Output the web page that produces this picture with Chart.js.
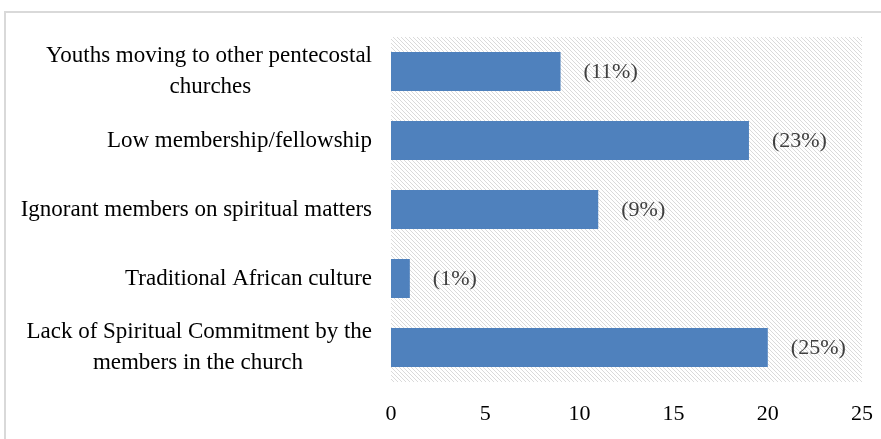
<!DOCTYPE html>
<html>
<head>
<meta charset="utf-8">
<script src="https://cdn.jsdelivr.net/npm/chart.js@4"></script>
<style>
  html, body { margin: 0; padding: 0; background: #fff; overflow: hidden; }
  #wrap { position: relative; width: 881px; height: 439px; }
  #frame { position: absolute; left: 4px; top: 11px; width: 900px; height: 460px;
           border: 2px solid #d9d9d9; box-sizing: border-box; }
  #chart_canvas { position: absolute; left: 0; top: 0; }
</style>
</head>
<body>
<div id="wrap">
  <div id="frame"></div>
  <canvas id="chart_canvas" width="881" height="439"></canvas>
</div>
<script>
// the data, top to bottom
const categories = [
  ["Youths moving to other pentecostal", "churches"],
  "Low membership/fellowship",
  "Ignorant members on spiritual matters",
  "Traditional African culture",
  ["Lack of Spiritual Commitment by the", "members in the church"]
];
const values = [9, 19, 11, 1, 20];
const pct_labels = ["(11%)", "(23%)", "(9%)", "(1%)", "(25%)"];
const x_ticks = [0, 5, 10, 15, 20, 25];

const serif = "'Liberation Serif', 'Times New Roman', serif";
const label_font = "23px " + serif;

// two-line labels are centred as a block in the original, so pad the short line
const mctx = document.createElement("canvas").getContext("2d");
function center_lines(lbl) {
  if (!Array.isArray(lbl)) return lbl;
  mctx.font = label_font;
  const sw = mctx.measureText(" ").width;
  const widths = lbl.map(s => mctx.measureText(s).width);
  const maxw = Math.max(...widths);
  return lbl.map((s, i) => s + " ".repeat(Math.round((maxw - widths[i]) / 2 / sw)));
}

// hatched backdrop for the plot area
function hatch() {
  const c = document.createElement("canvas");
  c.width = 4; c.height = 4;
  const g = c.getContext("2d");
  g.fillStyle = "#ffffff";
  g.fillRect(0, 0, 4, 4);
  g.strokeStyle = "#dadada";
  g.lineWidth = 1;
  g.beginPath();
  g.moveTo(0, 0); g.lineTo(4, 4);
  g.moveTo(-1, 3); g.lineTo(1, 5);
  g.moveTo(3, -1); g.lineTo(5, 1);
  g.stroke();
  return g.createPattern(c, "repeat");
}

const bg_plugin = {
  id: "bg",
  beforeDraw(chart) {
    const a = chart.chartArea;
    const ctx = chart.ctx;
    ctx.save();
    ctx.fillStyle = hatch();
    ctx.fillRect(a.left, a.top, a.right - a.left, a.bottom - a.top);
    ctx.restore();
  }
};

const pct_plugin = {
  id: "pct",
  afterDatasetsDraw(chart) {
    const ctx = chart.ctx;
    const meta = chart.getDatasetMeta(0);
    ctx.save();
    ctx.font = "22px " + serif;
    ctx.fillStyle = "#404040";
    ctx.textAlign = "left";
    ctx.textBaseline = "middle";
    meta.data.forEach((bar, i) => {
      ctx.fillText(pct_labels[i], bar.x + 23, bar.y + 1);
    });
    ctx.restore();
  }
};

const chart = new Chart(document.getElementById("chart_canvas").getContext("2d"), {
  type: "bar",
  data: {
    labels: categories,
    datasets: [{
      data: values,
      backgroundColor: "#4f81bd",
      borderWidth: 0,
      categoryPercentage: 1,
      barPercentage: 0.565
    }]
  },
  options: {
    indexAxis: "y",
    responsive: false,
    animation: false,
    layout: { padding: { top: 37, right: 19, left: 0, bottom: 0 } },
    plugins: { legend: { display: false }, tooltip: { enabled: false } },
    scales: {
      x: {
        min: 0, max: 25,
        afterBuildTicks: (axis) => { axis.ticks = x_ticks.map(v => ({ value: v })); },
        grid: { display: false, drawTicks: false },
        border: { display: false },
        ticks: { color: "#000", padding: 19, font: { family: serif, size: 22 } },
        afterFit: (axis) => { axis.height = 57; axis.paddingLeft = 0; axis.paddingRight = 0; }
      },
      y: {
        grid: { display: false, drawTicks: false },
        border: { display: false },
        ticks: {
          color: "#000", padding: 19,
          font: { family: serif, size: 23, lineHeight: 1.35 },
          callback: (v, i) => center_lines(categories[i])
        },
        afterFit: (axis) => { axis.width = 391; axis.paddingTop = 0; axis.paddingBottom = 0; }
      }
    }
  },
  plugins: [bg_plugin, pct_plugin]
});
</script>
</body>
</html>
